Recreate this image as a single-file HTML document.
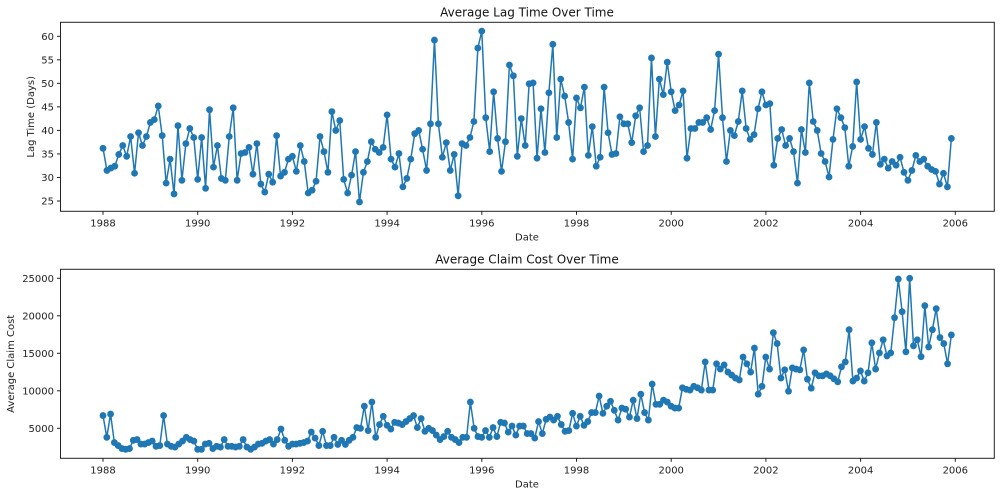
<!DOCTYPE html>
<html><head><meta charset="utf-8">
<style>
html,body{margin:0;padding:0;background:#fff;}
svg{display:block;font-family:"DejaVu Sans","Liberation Sans",sans-serif;}
</style></head>
<body>
<svg id="chart" width="1000" height="496" viewBox="0 0 1000 496" xmlns="http://www.w3.org/2000/svg"></svg>
<script>
const lagValues = [36.2,31.5,32.0,32.4,34.9,36.8,34.5,38.7,30.9,39.5,36.8,38.7,41.7,42.3,45.2,38.9,28.8,33.9,26.5,41.0,29.4,37.2,40.4,38.5,29.6,38.5,27.7,44.4,32.2,36.8,29.8,29.4,38.7,44.8,29.4,35.1,35.3,36.4,30.7,37.2,28.6,26.9,30.7,29.0,38.9,30.3,31.1,33.9,34.5,31.3,36.8,33.4,
26.7,27.3,29.2,38.7,
35.5,31.1,44.0,40.0,42.1,29.6,26.7,30.5,35.5,24.8,31.1,33.4,37.6,36.0,35.3,36.4,43.3,33.9,32.2,35.1,28.0,29.8,33.9,39.3,40.0,36.0,31.5,41.4,59.2,41.4,34.3,37.4,31.5,34.9,26.1,37.2,36.8,38.5,41.9,57.5,61.1,42.7,35.5,48.2,38.3,31.3,37.6,53.9,51.6,
34.5,42.5,36.8,49.9,50.1,34.1,44.6,35.3,48.0,58.3,38.5,50.9,47.3,41.7,33.9,46.9,44.8,49.2,34.7,40.8,32.4,34.3,49.2,39.5,34.9,35.1,42.9,41.4,41.4,37.4,43.1,44.8,35.5,36.8,55.4,38.7,50.9,47.6,54.5,48.2,44.2,45.4,48.4,34.1,40.4,40.4,41.7,41.7,42.7,40.2,44.2,56.2,42.7,33.4,40.0,
38.9,41.9,48.4,40.4,38.1,39.1,44.6,48.2,45.4,45.7,32.6,38.3,40.2,36.8,38.3,35.5,28.8,40.2,35.3,50.1,41.9,40.0,35.1,33.4,30.1,38.1,44.6,42.7,40.6,32.4,36.6,50.3,38.1,40.8,36.2,34.9,41.7,32.8,33.9,32.0,33.4,32.6,34.3,31.1,29.4,31.5,34.7,33.4,33.9,32.4,31.7,31.3,28.6,30.9,28.0,38.3];
const costValues = [6700,3800,6900,3100,2700,2300,2200,2300,3400,3500,2900,2900,3100,3300,2600,2700,6700,2900,2600,2500,2900,3300,3800,3500,3300,2200,2200,2900,3000,2300,2600,2500,3500,2600,2600,2500,2600,3500,2500,2200,2500,2900,3000,3300,3500,2900,3500,4900,3400,2600,2900,2900,3000,3100,3300,4500,
3700,2700,4600,2700,2700,3800,2850,3400,2850,3400,3800,5100,5000,7950,4700,8500,3800,5500,6600,5400,4900,5800,5700,5500,5900,6300,6700,5100,6300,4600,5000,4700,4100,3500,3900,4600,3800,3500,3100,3800,3800,8500,5000,3900,3800,4700,3800,5100,3900,5800,5700,4500,5300,4100,5300,
5300,4300,4300,3700,5900,4300,6200,6500,6100,6600,5500,4600,4700,7000,5300,6600,5400,5900,7100,7100,9300,7000,7950,8600,7400,6100,7700,7550,6500,8750,6300,9550,7100,6100,10900,8200,8200,8750,8500,7950,7700,7700,10400,10200,10100,10600,10400,10100,13850,10100,10100,13600,12900,13450,12500,12100,11700,11450,14500,13600,12500,
15700,9550,10600,14500,12900,17750,16300,11700,12800,9950,13050,12900,12800,15450,11550,10350,12400,12000,12000,12250,12000,11600,11200,13200,13850,18150,11300,11700,12650,11300,12400,16400,12900,15050,16800,14650,15050,19750,24900,20550,15200,25000,16000,16800,14550,21350,15850,18150,20950,17100,16300,13600,17450];
const xTickYears = [1988,1990,1992,1994,1996,1998,2000,2002,2004,2006];
const lagTicks = [25,30,35,40,45,50,55,60];
const costTicks = [5000,10000,15000,20000,25000];
const startYear = 1988, endYear = 2005 + 11/12;

const NS = "http://www.w3.org/2000/svg";
const svg = document.getElementById('chart');
function mk(tag, attrs, parent){ const e=document.createElementNS(NS,tag); for(const k in attrs) e.setAttribute(k,attrs[k]); (parent||svg).appendChild(e); return e; }
const xScale = yr => 103 + (yr-1988)*(955.3-103)/18;
const dates = n => Array.from({length:n},(_,i)=>startYear + i*(endYear-startYear)/(n-1));

function panel(o){
  const g = mk('g',{});
  
  
  const y = v => o.y0 + (v-o.v0)*(o.y1-o.y0)/(o.v1-o.v0);
  const frame = mk('rect',{x:60.5,y:o.top,width:933.8,height:o.bottom-o.top,fill:'none',stroke:'#222','stroke-width':1},g);
  
  
  const t = mk('text',{x:527,y:o.top-6,'text-anchor':'middle','font-size':12,fill:'#111'},g);
  t.textContent=o.title;
  
  
  xTickYears.forEach(yr=>{
    const x=xScale(yr);
    mk('line',{x1:x,x2:x,y1:o.bottom,y2:o.bottom+3.5,stroke:'#222'},g);
    const tx=mk('text',{x:x,y:o.bottom+15,'text-anchor':'middle','font-size':10,fill:'#222'},g);
    tx.textContent=yr;
    
    
  });
  o.ticks.forEach(v=>{
    const yy=y(v);
    mk('line',{x1:60.5,x2:57,y1:yy,y2:yy,stroke:'#222'},g);
    const ty=mk('text',{x:54,y:yy+3.5,'text-anchor':'end','font-size':10,fill:'#222'},g);
    ty.textContent=v;
    
    
  });
  const xl=mk('text',{x:527,y:o.bottom+29,'text-anchor':'middle','font-size':10,fill:'#222'},g);
  xl.textContent='Date';
  
  
  const ylx=o.ylabelX, yly=(o.top+o.bottom)/2;
  const yl=mk('text',{x:ylx,y:yly,'text-anchor':'middle','font-size':10,fill:'#222',transform:`rotate(-90 ${ylx} ${yly})`},g);
  yl.textContent=o.ylabel;
  
  
  const d = dates(o.values.length);
  const pts = o.values.map((v,i)=>xScale(d[i]).toFixed(2)+','+y(v).toFixed(2)).join(' ');
  const line=mk('polyline',{points:pts,fill:'none',stroke:'#1f77b4','stroke-width':1.5,'stroke-linejoin':'round'},g);
  
  
  o.values.forEach((v,i)=>{
    const c=mk('circle',{cx:xScale(d[i]),cy:y(v),r:3.4,fill:'#1f77b4'},g);
    
    
  });
}
panel({name:'lag-time-panel',title:'Average Lag Time Over Time',top:22.3,bottom:211.3,v0:25,y0:201,v1:60,y1:36.3,ticks:lagTicks,values:lagValues,ylabel:'Lag Time (Days)',ylabelX:34});
panel({name:'claim-cost-panel',title:'Average Claim Cost Over Time',top:269.3,bottom:458.3,v0:5000,y0:428.3,v1:25000,y1:278.3,ticks:costTicks,values:costValues,ylabel:'Average Claim Cost',ylabelX:14});
</script>
</body></html>
